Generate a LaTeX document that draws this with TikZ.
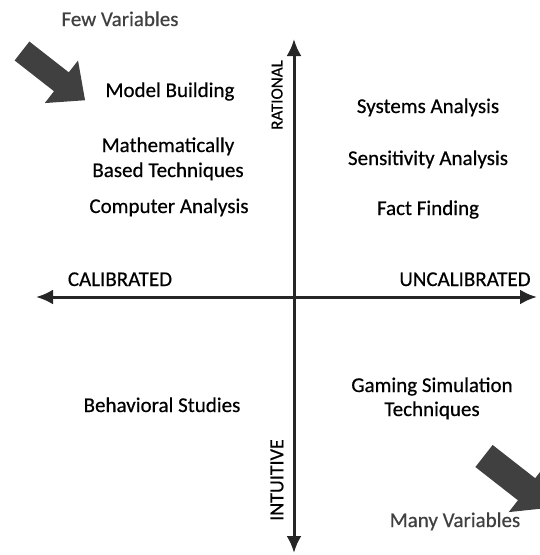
\documentclass[tikz,border=0pt]{standalone}
\usepackage{fontspec}
\setmainfont{Carlito}
\newfontfamily\scanfont{Carlito}[FakeBold=0.5]
\usetikzlibrary{arrows.meta}

\begin{document}
\begin{tikzpicture}[x=1pt,y=-1pt,
	axis/.style={line width=3pt, draw=black!85, {Latex[length=17pt,width=15pt]}-{Latex[length=17pt,width=15pt]}},
	lbl/.style={font=\scanfont\fontsize{21}{25}\selectfont, anchor=base, inner sep=0pt},
	varlbl/.style={lbl, text=black!75},
	axlbl/.style={inner sep=0pt, rotate=90},
	bigarrow/.style={fill=black!75}]
	\useasboundingbox (0,0) rectangle (539,555);

	\coordinate (top) at (294,39);
	\coordinate (bottom) at (294,553);
	\coordinate (left) at (36,297);
	\coordinate (right) at (537,297);
	\draw [axis] (bottom) -- (top);
	\draw [axis] (left) -- (right);

	\fill [bigarrow, shift={(22,51)}, rotate=-38] (0,12) -- (50,12) -- (50,27) -- (80,0) -- (50,-27) -- (50,-12) -- (0,-12) -- cycle;
	\fill [bigarrow, shift={(484,456)}, rotate=-38] (0,14) -- (54,14) -- (54,29) -- (84,0) -- (54,-29) -- (54,-14) -- (0,-14) -- cycle;

	\node [varlbl] (few) at (120,26) {Few Variables};
	\node [varlbl] (many) at (455,527) {Many Variables};

	\node [lbl] (model) at (170,97) {Model Building};
	\node [lbl] (math1) at (168,152) {Mathematically};
	\node [lbl] (math2) at (168,177) {Based Techniques};
	\node [lbl] (computer) at (169,213) {Computer Analysis};

	\node [lbl] (systems) at (428,113) {Systems Analysis};
	\node [lbl] (sensitivity) at (428,165) {Sensitivity Analysis};
	\node [lbl] (fact) at (428,215) {Fact Finding};

	\node [lbl] (calib) at (120,286) {CALIBRATED};
	\node [lbl] (uncalib) at (465,286) {UNCALIBRATED};

	\node [lbl] (behav) at (162,412) {Behavioral Studies};
	\node [lbl] (gaming1) at (432,392) {Gaming Simulation};
	\node [lbl] (gaming2) at (432,416) {Techniques};

	\node [axlbl, font=\scanfont\fontsize{17}{20}\selectfont] (rational) at (277,95) {RATIONAL};
	\node [axlbl, font=\scanfont\fontsize{20}{24}\selectfont] (intuitive) at (277,480) {INTUITIVE};
\end{tikzpicture}
\end{document}
